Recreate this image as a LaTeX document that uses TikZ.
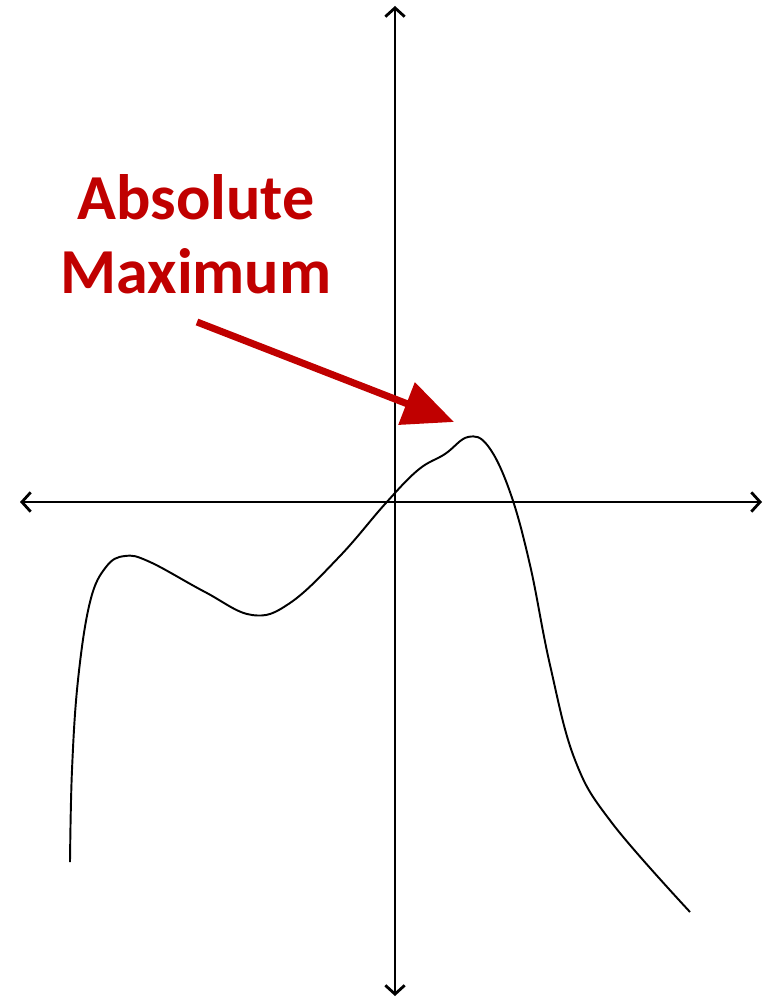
\documentclass[tikz,border=0pt]{standalone}
\usepackage{fontspec}
\setmainfont{Carlito}
\usetikzlibrary{arrows.meta}
\definecolor{maxred}{HTML}{C00000}
\begin{document}
\begin{tikzpicture}[x=0.02cm,y=-0.02cm]
                \useasboundingbox (0,0) rectangle (764,999);
                \coordinate (T) at (395,6);
                \coordinate (D) at (395,996);
                \coordinate (L) at (20,502);
                \coordinate (R) at (762,502);
                % the axes
                \draw [line width=1.6pt, {Straight Barb[length=5pt,width=11pt]}-{Straight Barb[length=5pt,width=11pt]}] (L) -- (R);
                \draw [line width=1.6pt, {Straight Barb[length=5pt,width=11pt]}-{Straight Barb[length=5pt,width=11pt]}] (D) -- (T);

                % the curve
                \draw [line width=1.1pt] plot[smooth, tension=0.65] coordinates {
                  (70,862) (72,770) (78,680) (90,602) (106,567) (125,556)
                  (150,562) (205,592) (252,615) (290,603) (340,556) (385,504)
                  (418,470) (445,454) (468,437) (488,446) (510,492) (530,565)
                  (550,665) (575,760) (612,823) (690,912)};

                % label and arrow
                \node[text=maxred, font=\fontsize{36.5pt}{42pt}\selectfont\bfseries, align=center] (lbl) at (196,234) {Absolute\\Maximum};
                \coordinate (S) at (197,322);
                \coordinate (P) at (454,422);
                \draw [maxred, line width=4pt, -{Triangle[length=29pt,width=25pt]}] (S) -- (P);
              \end{tikzpicture}
\end{document}
